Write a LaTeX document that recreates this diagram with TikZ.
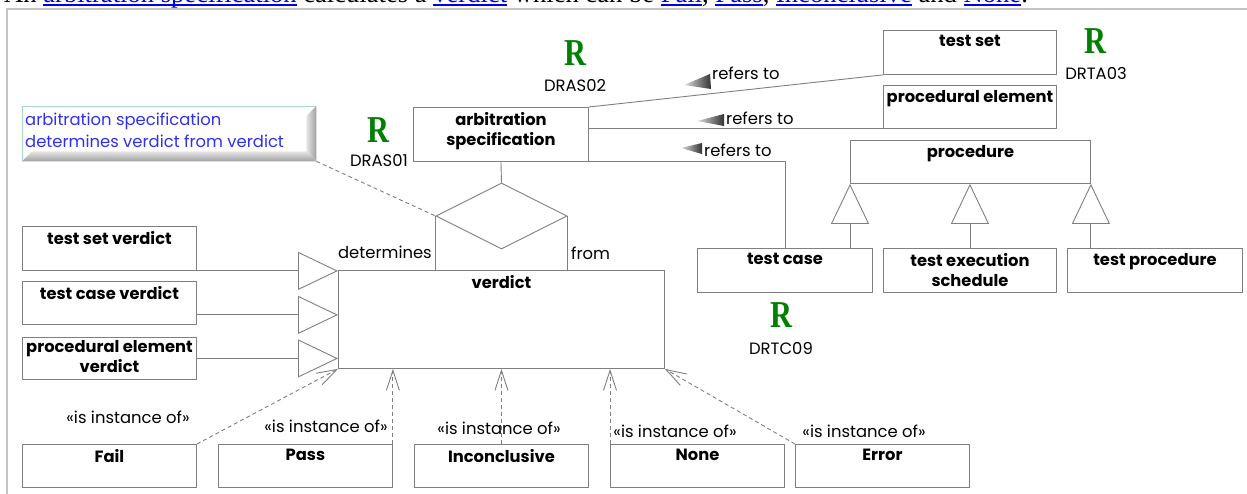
\documentclass[tikz,border=0pt]{standalone}
\usepackage{fontspec}
\usepackage{graphicx}
\setmainfont{Poppins}
\newfontfamily\serifF{Liberation Serif}
\usetikzlibrary{arrows.meta,shapes.geometric,calc}
\definecolor{lg}{HTML}{7F7F7F}
\definecolor{framec}{HTML}{C4C4C4}
\definecolor{noteblue}{HTML}{3030F0}
\definecolor{rgreen}{HTML}{008000}
\definecolor{linkblue}{HTML}{0000EE}
\definecolor{notebd}{HTML}{A8D4D4}
\newcommand\ulnk[1]{\setbox0\hbox{#1}\rlap{\rule[-3pt]{\wd0}{1.3pt}}\box0}
\tikzset{
 ln/.style={draw=lg, line width=0.9pt},
 box/.style={draw=lg, line width=0.9pt, inner sep=0pt, minimum width=174pt, minimum height=43pt, anchor=north west},
 ttl/.style={font=\bfseries\fontsize{16.3}{20.5}\selectfont, align=center, inner sep=0pt, anchor=north, yshift=-5pt},
 reg/.style={font=\fontsize{16.4}{20}\selectfont, inner sep=0pt},
 gen/.style={ln, -{Triangle[open, length=40pt, width=38pt]}},
 inst/.style={ln, dash pattern=on 4pt off 3pt, -{Straight Barb[length=20pt, width=13pt]}},
 rmark/.style={font=\serifF\bfseries\fontsize{38}{38}\selectfont, text=rgreen, inner sep=0pt},
 rcode/.style={reg},
 refarr/.style={left color=gray!25, right color=black!80},
}
\begin{document}
\begin{tikzpicture}[x=1pt,y=-1pt]
\useasboundingbox (0,0) rectangle (1247,493);
% heading (cut off at the top, as in the reference)
\node[anchor=base west, inner sep=0pt, font=\serifF\fontsize{26.6}{30}\selectfont] (head) at (4,2.5)
 {An \textcolor{linkblue}{\ulnk{arbitration specification}} calculates a \textcolor{linkblue}{\ulnk{verdict}} which can be \textcolor{linkblue}{\ulnk{Fail}}, \textcolor{linkblue}{\ulnk{Pass}}, \textcolor{linkblue}{\ulnk{Inconclusive}} and \textcolor{linkblue}{\ulnk{None}}.};
% frame
\draw[framec, line width=1.6pt] (7,620) -- (7,9) -- (1400,9);

% note
\node[inner sep=0pt, minimum width=294pt, minimum height=55pt, anchor=north west] (note) at (22,106) {};
\fill[white] (note.north west) rectangle (note.south east);
\shade[top color=gray!20, bottom color=gray!75] (note.south west) -- ++(10,-10) -- ($(note.south east)+(-10,-10)$) -- (note.south east) -- cycle;
\shade[left color=gray!20, right color=gray!75] (note.north east) -- ++(-10,10) -- ($(note.south east)+(-10,-10)$) -- (note.south east) -- cycle;
\draw[notebd, line width=0.8pt] (note.south west) -- (note.north west) -- (note.north east);
\node[reg, anchor=north west, align=left, text=noteblue, font=\fontsize{16.4}{22}\selectfont] (notet) at ($(note.north west)+(3,6.5)$) {arbitration specification\\determines verdict from verdict};

% classes
\node[box, minimum width=175pt, minimum height=54pt, label={[ttl]north:{arbitration\\specification}}] (arb) at (413,107) {};
\node[box, minimum width=173pt, minimum height=44pt, label={[ttl]north:test set}] (ts) at (883,30) {};
\node[box, minimum width=173pt, minimum height=43pt, label={[ttl]north:procedural element}] (pe) at (883,85) {};
\node[box, minimum width=240pt, minimum height=43pt, label={[ttl]north:procedure}] (proc) at (850,140) {};
\node[box, minimum width=175pt, minimum height=44pt, label={[ttl]north:test case}] (tc) at (697,248) {};
\node[box, minimum width=173pt, minimum height=44pt, label={[ttl]north:{test execution\\schedule}}] (tes) at (883,248) {};
\node[box, minimum width=175pt, minimum height=44pt, label={[ttl]north:test procedure}] (tp) at (1067,248) {};
\node[box, minimum width=326pt, minimum height=98pt, label={[ttl]north:verdict}] (verdict) at (338,270) {};
\node[box, minimum height=44pt, label={[ttl]north:test set verdict}] (tsv) at (22,226) {};
\node[box, minimum height=43pt, label={[ttl]north:test case verdict}] (tcv) at (22,281) {};
\node[box, minimum height=42pt, label={[ttl,yshift=2pt]north:{procedural element\\verdict}}] (pev) at (22,337) {};
\node[box, label={[ttl]north:Fail}] (fail) at (22,444) {};
\node[box, label={[ttl]north:Pass}] (pass) at (218,444) {};
\node[box, label={[ttl]north:Inconclusive}] (inc) at (414,444) {};
\node[box, label={[ttl]north:None}] (none) at (610,444) {};
\node[box, label={[ttl]north:Error}] (err) at (795,444) {};

% diamond (association)
\node[diamond, draw=lg, line width=0.9pt, minimum width=131pt, minimum height=66pt, inner sep=0pt] (dia) at (501.5,216) {};
\draw[ln] (arb.south) -- (dia.north);
\draw[ln] (dia.west) -- (dia.west |- verdict.north);
\draw[ln] (dia.east) -- (dia.east |- verdict.north);
\draw[ln, dash pattern=on 4pt off 3pt] (note.south east) -- (dia.west);
\node[reg, anchor=east] (detl) at (432,252) {determines};
\node[reg, anchor=west] (froml) at (571,253) {from};

% generalisations into verdict
\coordinate (g2) at ($(tcv.south east)+(0,-10)$);
\draw[gen] (tsv.south east) -- (tsv.south east -| verdict.west);
\draw[gen] (g2) -- (g2 -| verdict.west);
\draw[gen] (pev.east) -- (pev.east -| verdict.west);

% generalisations into procedure
\draw[gen] (tc.north -| proc.south west) -- (proc.south west);
\draw[gen] (tes.north) -- (tes.north |- proc.south);
\draw[gen] (tp.north -| proc.south east) -- (proc.south east);

% refers to
\draw[ln] (arb.north east) -- (ts.south west);
\draw[ln] (arb.east |- pe.south west) -- (pe.south west);
\draw[ln] (arb.south east) -| (tc.north);
\node[reg, anchor=west] (rt1) at (712,73) {refers to};
\node[reg, anchor=west] (rt2) at (726,118) {refers to};
\node[reg, anchor=west] (rt3) at (704,150) {refers to};
\shade[refarr] ($(rt1.west)+(-28,12)$) -- ($(rt1.west)+(-2,1)$) -- ($(rt1.west)+(-1,16)$) -- cycle;
\shade[refarr] ($(rt2.west)+(-29,3)$) -- ($(rt2.west)+(-2,-4)$) -- ($(rt2.west)+(-2,8)$) -- cycle;
\shade[refarr] ($(rt3.west)+(-23,-2)$) -- ($(rt3.west)+(-2,-7)$) -- ($(rt3.west)+(-2,4)$) -- cycle;

% instances
\draw[inst] (fail.north east) -- (verdict.south west);
\draw[inst] (pass.north east) -- (pass.north east |- verdict.south);
\draw[inst] (inc.north) -- (inc.north |- verdict.south);
\draw[inst] (none.north west) -- (none.north west |- verdict.south);
\draw[inst] (err.north west) -- (verdict.south east);
\node[reg] (i1) at (128,417) {«is instance of»};
\node[reg] (i2) at (326,426) {«is instance of»};
\node[reg] (i3) at (499,428) {«is instance of»};
\node[reg] (i4) at (675,431) {«is instance of»};
\node[reg] (i5) at (864,431) {«is instance of»};

% requirement marks
\node[rmark] (r1) at (378,130) {\scalebox{0.8}[1]{R}};
\node[rcode] (c1) at (379,161) {DRAS01};
\node[rmark] (r2) at (575,53) {\scalebox{0.8}[1]{R}};
\node[rcode] (c2) at (575,86) {DRAS02};
\node[rmark] (r3) at (1095,41) {\scalebox{0.8}[1]{R}};
\node[rcode] (c3) at (1096,73) {DRTA03};
\node[rmark] (r4) at (781,315) {\scalebox{0.8}[1]{R}};
\node[rcode] (c4) at (781,348) {DRTC09};
\end{tikzpicture}
\end{document}
